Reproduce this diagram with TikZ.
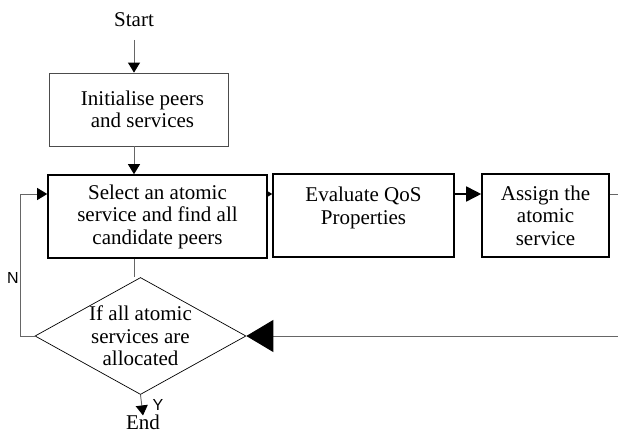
\documentclass[tikz,border=0pt]{standalone}
\usepackage{fontspec}
\setmainfont{Liberation Serif}
\newfontfamily\labfont{Liberation Sans}
\usetikzlibrary{arrows.meta,shapes.geometric}

\tikzset{
  txt/.style={font=\fontsize{21}{22.5}\selectfont, align=center, inner sep=0pt},
  stepbox/.style={txt, draw=black, line width=1.6pt, minimum height=83pt},
  initbox/.style={txt, draw=black!70, line width=0.8pt, minimum width=179pt, minimum height=73pt},
  decision/.style={txt, draw=black, line width=0.7pt, diamond, aspect=1.8, minimum width=211pt, minimum height=116pt},
  lab/.style={font=\labfont\fontsize{16}{16}\selectfont, inner sep=0pt},
  link/.style={draw=black!60, line width=0.9pt},
  flow/.style={link, -{Triangle[color=black,length=10pt,width=12pt]}},
}

\begin{document}
\begin{tikzpicture}[x=1pt,y=-1pt]
\useasboundingbox (0,0) rectangle (618,435);

% boxes
\node[txt] (start) at (134,20) {Start};
\node[initbox] (init) at (138.5,109.5) {\hspace*{8pt}Initialise peers\\\hspace*{8pt}and services};
\node[stepbox, minimum width=219pt] (select) at (157.5,216.5) {Select an atomic\\service and find all\\candidate peers};
\node[stepbox, minimum width=181pt, text depth=20pt] (eval) at (363.5,215.5) {Evaluate QoS\\Properties};
\node[stepbox, minimum width=127pt] (assign) at (545.5,215.5) {Assign the\\atomic\\service};
\node[decision] (dec) at (140.5,336) {If all atomic\\services are\\allocated};
\node[txt] (end) at (143,422) {End};

% branch labels
\node[lab] (n) at (13,278) {N};
\node[lab] (y) at (158,405) {Y};

% rows of the connectors
\coordinate (r1) at (0,194);
\coordinate (rc) at (620,194);

% connectors
\draw[flow] (start.south |- 0,40) -- (start.south |- init.north);
\draw[flow] (start.south |- init.south) -- (start.south |- select.north);
\draw[link] (start.south |- select.south) -- (start.south |- dec.north);
\draw[link, -{Triangle[length=6pt,width=7pt]}, draw=black] (select.east |- r1) -- (eval.west |- r1);
\draw[line width=1.6pt, -{Triangle[length=15pt,width=15pt]}] (eval.east |- r1) -- (assign.west |- r1);
\draw[link, -{Triangle[color=black,length=27pt,width=32pt]}] (assign.east |- r1) -- (rc) |- (dec.east);
\draw[flow] (dec.west) -- ++(-14,0) |- (select.west |- r1);
\draw[flow] (dec.south) -- ([yshift=-1pt]end.north);
\end{tikzpicture}
\end{document}
